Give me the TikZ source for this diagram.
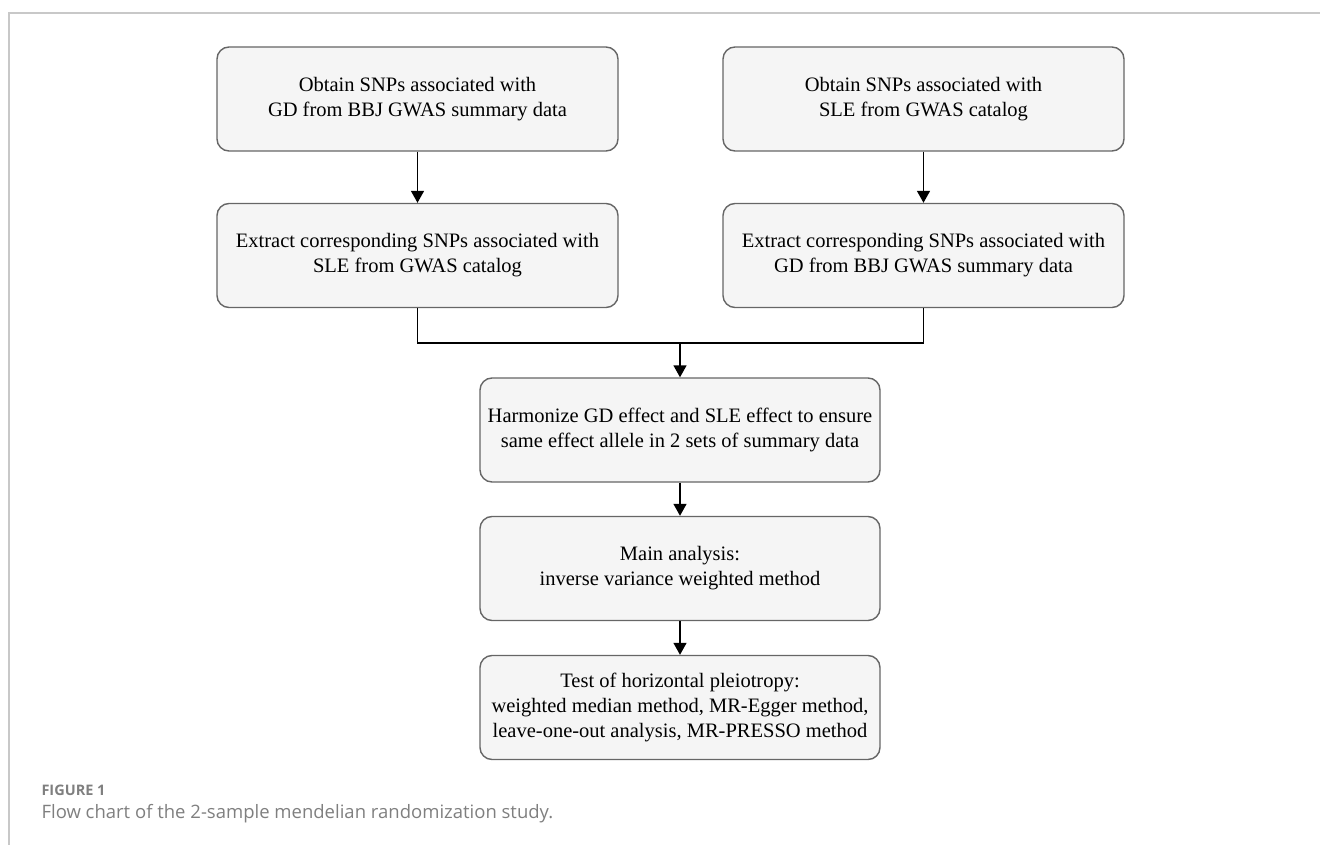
\documentclass[tikz,border=0pt]{standalone}
\usepackage{fontspec}
\setmainfont{Liberation Serif}
\newfontfamily\capfont{Open Sans}
\usetikzlibrary{arrows.meta}
\definecolor{boxfill}{HTML}{F5F5F5}
\definecolor{boxline}{HTML}{666666}
\definecolor{capgray}{HTML}{7F7F7F}
\definecolor{framegray}{HTML}{C8C8C8}
\tikzset{
  stepbox/.style={draw=boxline, fill=boxfill, line width=1.4pt, rounded corners=12pt,
    align=center, inner sep=0pt, font=\fontsize{20.5}{25}\selectfont},
  sidebox/.style={stepbox, minimum width=401pt, minimum height=104pt},
  midbox/.style={stepbox, minimum width=400pt, minimum height=104pt},
  flow/.style={-{Triangle[length=12pt,width=13pt]}, line width=1.5pt},
}
\begin{document}
\begin{tikzpicture}[x=1pt,y=-1pt]
  \useasboundingbox (0,0) rectangle (1320,845);
  \draw[framegray, line width=1.2pt] (1320,13) -- (9,13) -- (9,845);
  % two input branches
  \node[sidebox] (gdsnp) at (417.5,99) {Obtain SNPs associated with\\GD from BBJ GWAS summary data};
  \node[sidebox] (slesnp) at (923.5,99) {Obtain SNPs associated with\\SLE from GWAS catalog};
  \node[sidebox] (gdext) at (417.5,255.5) {Extract corresponding SNPs associated with\\SLE from GWAS catalog};
  \node[sidebox] (sleext) at (923.5,255.5) {Extract corresponding SNPs associated with\\GD from BBJ GWAS summary data};
  \draw[flow] (gdsnp) -- (gdext);
  \draw[flow] (slesnp) -- (sleext);
  % merge
  \coordinate (join) at (680,343);
  \draw[line width=1.5pt] (gdext.south) |- (join) -| (sleext.south);
  \node[midbox] (harm) at (680,430) {Harmonize GD effect and SLE effect to ensure\\same effect allele in 2 sets of summary data};
  \node[midbox] (ivw) at (680,568.5) {Main analysis:\\inverse variance weighted method};
  \node[midbox] (pleio) at (680,707.5) {Test of horizontal pleiotropy:\\weighted median method, MR-Egger method,\\leave-one-out analysis, MR-PRESSO method};
  \draw[flow] (join) -- (harm);
  \draw[flow] (harm) -- (ivw);
  \draw[flow] (ivw) -- (pleio);
  % caption
  \node[anchor=west, capgray, font=\capfont\bfseries\fontsize{14.5}{18}\selectfont] (fig) at (38,790) {FIGURE 1};
  \node[anchor=west, capgray, font=\capfont\fontsize{18.5}{24}\selectfont] (cap) at (38,814) {Flow chart of the 2-sample mendelian randomization study.};
\end{tikzpicture}
\end{document}
